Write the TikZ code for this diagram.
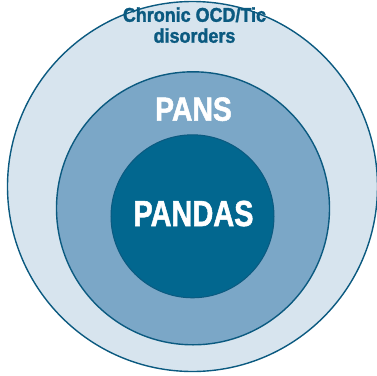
\documentclass[tikz,border=0pt]{standalone}
\usepackage{fontspec}
\usepackage{graphicx}
\newfontfamily\lib{Liberation Sans}[BoldFeatures={FakeBold=1.6}]
\definecolor{outerfill}{HTML}{D7E4EE}
\definecolor{midfill}{HTML}{7BA7C7}
\definecolor{innerfill}{HTML}{02678F}
\definecolor{edge}{HTML}{0B5A80}
\tikzset{ring/.style={circle, draw=edge, line width=1.4bp, inner sep=0pt}}
\begin{document}
\begin{tikzpicture}[x=1bp,y=-1bp]
\useasboundingbox (0,0) rectangle (377,376);
\node[ring, fill=outerfill, minimum size=370bp] (outer) at (192.5,186.5) {};
\node[ring, fill=midfill, minimum size=273bp] (mid) at (193,208.3) {};
\node[ring, fill=innerfill, line width=1bp, minimum size=163bp] (inner) at (192.5,216.3) {};
\node[text=edge, font=\lib\bfseries\fontsize{20}{21.3}\selectfont, inner sep=0pt, anchor=base] (lbl1) at (194.5,42.7) {\scalebox{0.9}[1]{\begin{tabular}[b]{@{}c@{}}Chronic OCD/Tic\\[-0.3bp]disorders\end{tabular}}};
\node[text=white, font=\lib\bfseries\fontsize{33.5}{36}\selectfont, inner sep=0pt, anchor=base] (lbl2) at (193.5,120.7) {\scalebox{0.85}[1]{PANS}};
\node[text=white, font=\lib\bfseries\fontsize{36.3}{40}\selectfont, inner sep=0pt, anchor=base] (lbl3) at (193.5,226) {\scalebox{0.8}[1]{PANDAS}};
\end{tikzpicture}
\end{document}
